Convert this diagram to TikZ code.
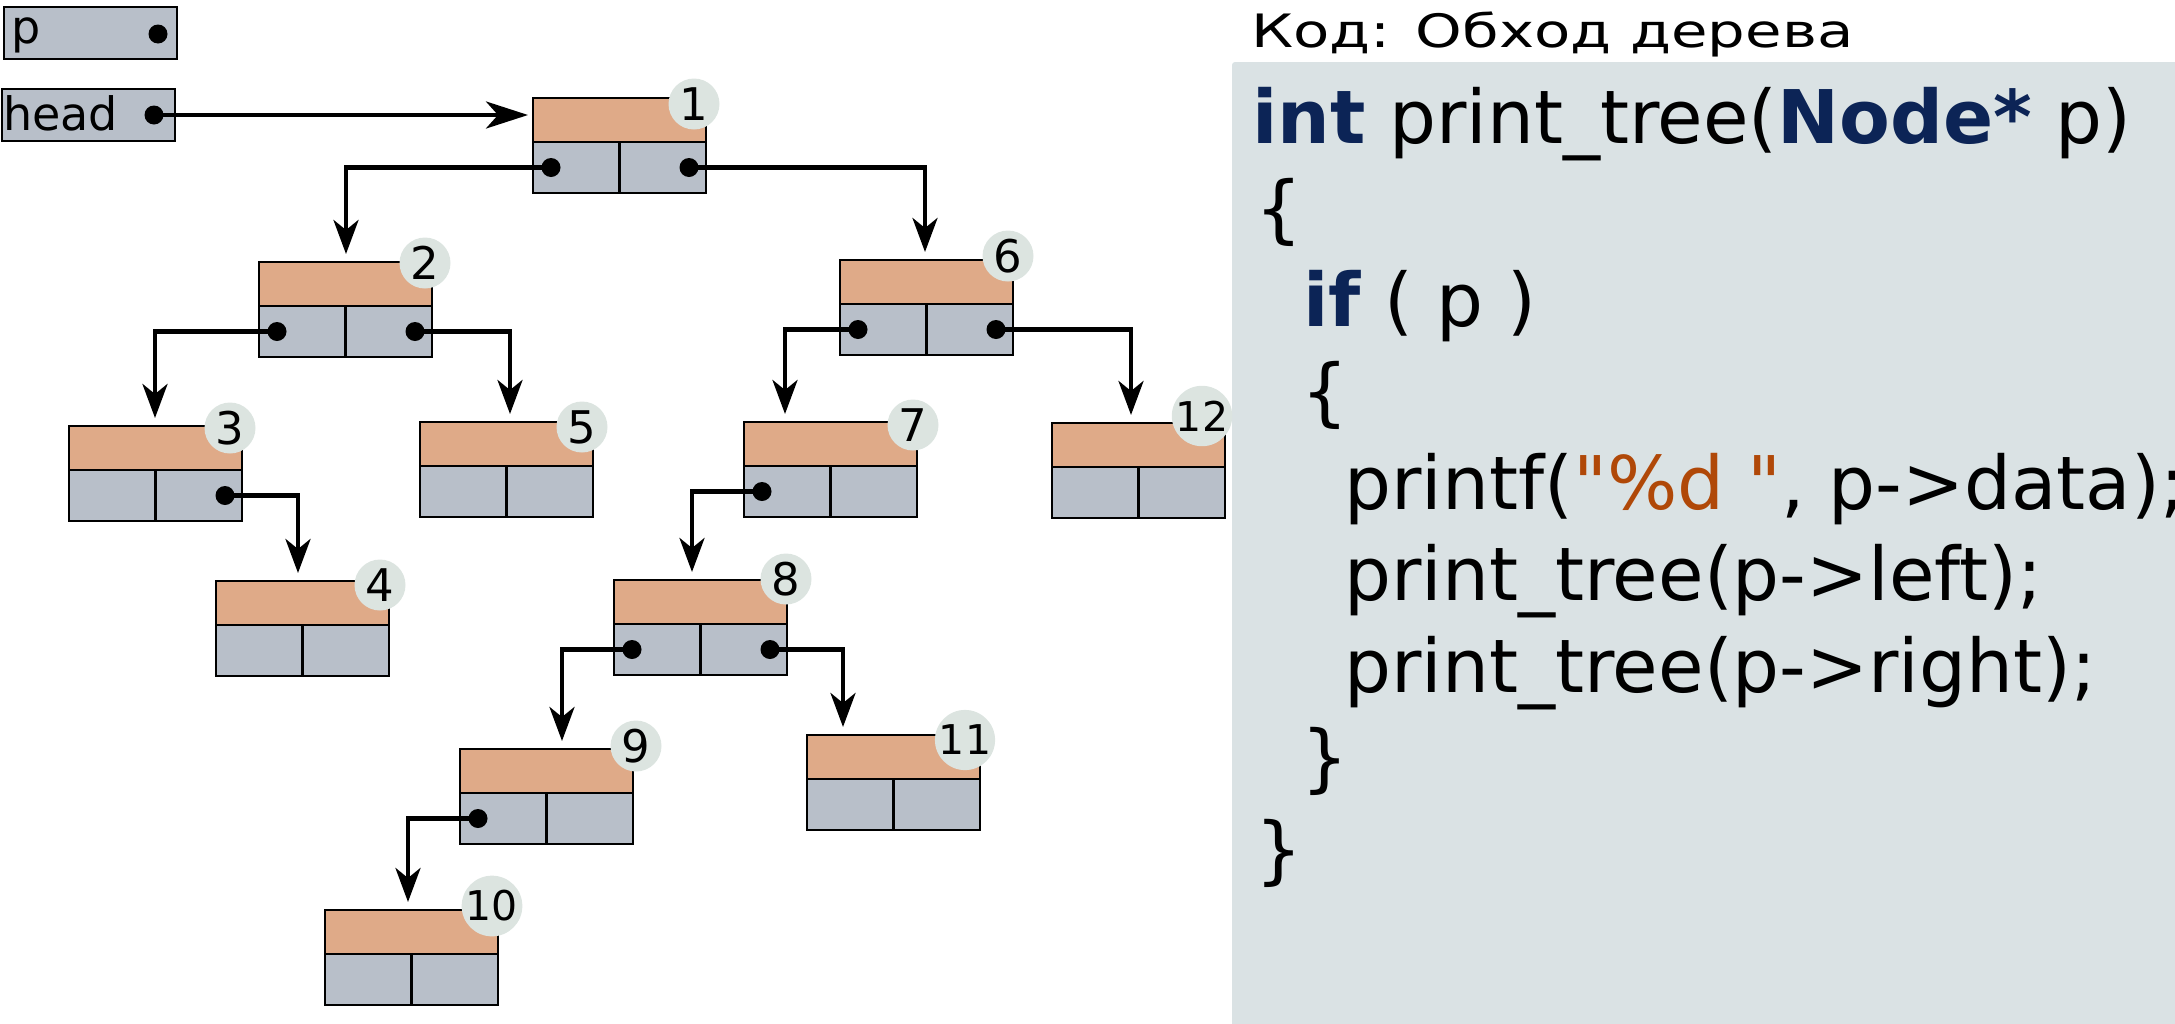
\documentclass[tikz,border=0pt]{standalone}
\usepackage{fontspec}
\setmainfont{DejaVu Sans}
\newfontfamily\codefont{DejaVu Sans}
\usetikzlibrary{arrows.meta}
\definecolor{nodeor}{RGB}{223,170,136}
\definecolor{nodegr}{RGB}{184,191,201}
\definecolor{badgec}{RGB}{220,228,224}
\definecolor{codebg}{RGB}{218,226,228}
\definecolor{kw}{RGB}{12,36,86}
\definecolor{strc}{RGB}{176,72,8}
\newcommand\tnode[7]{%
  \node[orangebox] (#1) at (#2,#3) {};
  \node[graycell] (#1a) at (#1.south west) {};
  \node[graycell] (#1b) at (#1a.north east) {};
  \node[#7] (#1num) at ([shift={(#5,#6)}]#1.north east) {#4};
}
\begin{document}
\begin{tikzpicture}[x=1pt,y=-1pt,
  orangebox/.style={draw, line width=2.7pt, fill=nodeor, minimum width=173pt, minimum height=44pt, inner sep=0pt, outer sep=0pt, anchor=north west},
  graycell/.style={draw, line width=2.7pt, fill=nodegr, minimum width=86.5pt, minimum height=51pt, inner sep=0pt, outer sep=0pt, anchor=north west},
  varbox/.style={draw, line width=2.7pt, fill=nodegr, minimum width=173pt, minimum height=52pt, inner sep=0pt, outer sep=0pt, anchor=north west},
  ptrdot/.style={circle, fill=black, minimum size=19pt, inner sep=0pt},
  badge/.style={circle, fill=badgec, minimum size=51pt, inner sep=0pt, font=\fontsize{45}{45}\selectfont},
  badgetwo/.style={badge, font=\fontsize{41}{41}\selectfont},
  link/.style={line width=4.5pt, -{Stealth[length=34pt,width=25pt,inset=10pt]}, shorten >=8pt},
  headlink/.style={line width=4.5pt, -{Stealth[length=42pt,width=27pt,inset=12pt]}, shorten >=5pt},
  lbl/.style={anchor=base west, inner sep=0pt, font=\fontsize{46}{46}\selectfont},
  codeline/.style={anchor=base west, inner sep=0pt, font=\codefont\fontsize{74}{88}\selectfont},
]
\useasboundingbox (0,0) rectangle (2175,1023);

% code panel
\node[fill=codebg, rounded corners=3pt, minimum width=960pt, minimum height=980pt, inner sep=0pt, outer sep=0pt, anchor=north west] (code) at (1232,62) {};
\node[lbl] (title) at (1251,47) {\scalebox{1.29}[1]{Код: Обход дерева}};

\node[codeline] (c1) at (1252,143) {{\bfseries\color{kw}int} print\_tree({\bfseries\color{kw}Node*} p)};
\node[codeline] (c2) at (1255,234) {\{};
\node[codeline] (c3) at (1303,326) {{\bfseries\color{kw}if} ( p )};
\node[codeline] (c4) at (1301,417) {\{};
\node[codeline] (c5) at (1344,509) {printf(\textcolor{strc}{"\%d "}, p->data);};
\node[codeline] (c6) at (1344,600) {print\_tree(p->left);};
\node[codeline] (c7) at (1344,692) {print\_tree(p->right);};
\node[codeline] (c8) at (1301,783) {\}};
\node[codeline] (c9) at (1255,875) {\}};

% variables
\node[varbox] (pbox) at (4,7) {};
\node[lbl] (plbl) at (11,43) {p};
\node[ptrdot] (pdot) at (158,34) {};
\node[varbox] (hbox) at (2,89) {};
\node[lbl] (hlbl) at (3,130) {head};
\node[ptrdot] (hdot) at (154,115) {};

% tree nodes
\tnode{n1}{533}{98}{1}{-12}{6}{badge}
\tnode{n2}{259}{262}{2}{-7}{1}{badge}
\tnode{n3}{69}{426}{3}{-12}{2}{badge}
\tnode{n4}{216}{581}{4}{-9}{4}{badge}
\tnode{n5}{420}{422}{5}{-11}{5}{badge}
\tnode{n6}{840}{260}{6}{-5}{-4}{badge}
\tnode{n7}{744}{422}{7}{-4}{3}{badge}
\tnode{n8}{614}{580}{8}{-1}{-1}{badge}
\tnode{n9}{460}{749}{9}{3}{-3}{badge}
\tnode{n10}{325}{910}{10}{-6}{-4}{badgetwo}
\tnode{n11}{807}{735}{11}{-15}{5}{badgetwo}
\tnode{n12}{1052}{423}{12}{-23}{-7}{badgetwo}

% pointer dots
\node[ptrdot] (d1l) at ([xshift=18pt]n1a.west) {};
\node[ptrdot] (d1r) at ([xshift=-17pt]n1b.east) {};
\node[ptrdot] (d2l) at ([xshift=18pt]n2a.west) {};
\node[ptrdot] (d2r) at ([xshift=-17pt]n2b.east) {};
\node[ptrdot] (d3r) at ([xshift=-17pt]n3b.east) {};
\node[ptrdot] (d6l) at ([xshift=18pt]n6a.west) {};
\node[ptrdot] (d6r) at ([xshift=-17pt]n6b.east) {};
\node[ptrdot] (d7l) at ([xshift=18pt]n7a.west) {};
\node[ptrdot] (d8l) at ([xshift=18pt]n8a.west) {};
\node[ptrdot] (d8r) at ([xshift=-17pt]n8b.east) {};
\node[ptrdot] (d9l) at ([xshift=18pt]n9a.west) {};

% connectors
\draw[headlink] (hdot.center) -- (hdot.center -| n1.west);
\draw[link] (d1l.center) -| ([xshift=87pt]n2.north west);
\draw[link] (d1r.center) -| ([xshift=85pt]n6.north west);
\draw[link] (d2l.center) -| ([xshift=86pt]n3.north west);
\draw[link] (d2r.center) -| ([xshift=90pt]n5.north west);
\draw[link] (d3r.center) -| ([xshift=82pt]n4.north west);
\draw[link] (d6l.center) -| ([xshift=41pt]n7.north west);
\draw[link] (d6r.center) -| ([xshift=79pt]n12.north west);
\draw[link] (d7l.center) -| ([xshift=78pt]n8.north west);
\draw[link] (d8l.center) -| ([xshift=102pt]n9.north west);
\draw[link] (d8r.center) -| ([xshift=36pt]n11.north west);
\draw[link] (d9l.center) -| ([xshift=83pt]n10.north west);
\end{tikzpicture}
\end{document}
